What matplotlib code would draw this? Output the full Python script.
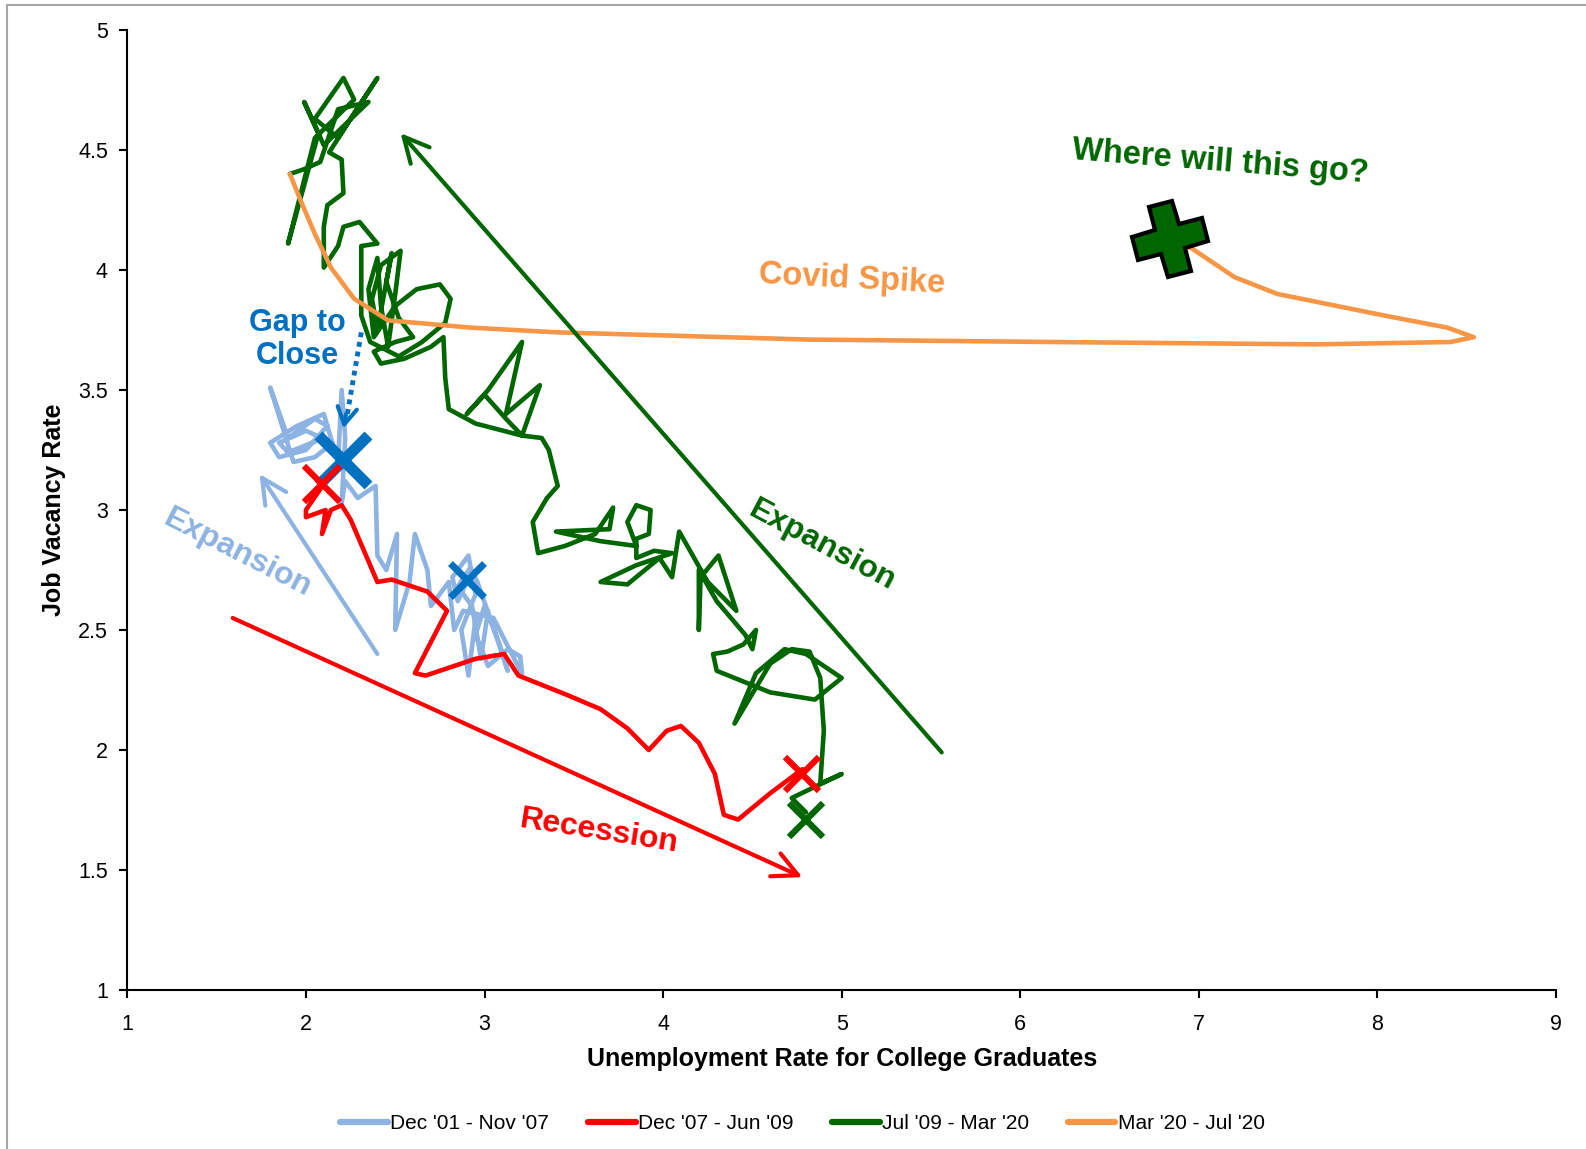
import numpy as np
import matplotlib.pyplot as plt
from matplotlib.lines import Line2D
from matplotlib.markers import MarkerStyle
from matplotlib.transforms import Affine2D

plt.rcParams['font.family'] = ['Liberation Sans', 'DejaVu Sans']

# traced paths (unemployment rate, job vacancy rate)
lb_x = [2.90, 2.85, 2.82, 2.91, 2.95, 2.87, 2.91, 2.95, 3.02, 2.98, 2.93, 2.85, 2.92, 2.96,
        3.05, 3.13, 3.08, 3.00, 2.95, 3.02, 3.13, 3.20, 3.21, 3.18, 3.05, 2.88, 2.83, 2.80,
        2.70, 2.68, 2.61, 2.58, 2.50, 2.51, 2.45, 2.40, 2.39, 2.29, 2.22, 2.20, 2.22, 2.20,
        2.18, 2.10, 1.95, 1.80, 1.85, 2.00, 2.12, 2.05, 1.90, 1.80, 1.93, 2.05, 2.15, 2.00,
        1.85, 1.90, 2.10, 2.21]
lb_y = [2.70, 2.62, 2.72, 2.81, 2.65, 2.50, 2.31, 2.55, 2.58, 2.38, 2.60, 2.68, 2.76, 2.70,
        2.51, 2.33, 2.45, 2.60, 2.48, 2.35, 2.42, 2.39, 2.32, 2.36, 2.55, 2.58, 2.50, 2.70,
        2.60, 2.75, 2.90, 2.70, 2.50, 2.90, 2.75, 2.81, 3.10, 3.05, 3.12, 3.03, 3.30, 3.50,
        3.20, 3.40, 3.35, 3.28, 3.22, 3.25, 3.35, 3.38, 3.30, 3.51, 3.20, 3.22, 3.28, 3.33,
        3.28, 3.24, 3.30, 3.21]

red_x = [2.12, 2.00, 2.00, 2.11, 2.09, 2.14, 2.20, 2.25, 2.40, 2.48, 2.68, 2.79, 2.61, 2.67,
         2.95, 3.11, 3.19, 3.46, 3.65, 3.80, 3.92, 4.02, 4.10, 4.20, 4.29, 4.34, 4.42, 4.60, 4.78]
red_y = [3.13, 3.00, 2.97, 3.00, 2.90, 3.00, 3.02, 2.96, 2.70, 2.71, 2.66, 2.58, 2.32, 2.31,
         2.38, 2.40, 2.31, 2.23, 2.17, 2.09, 2.00, 2.08, 2.10, 2.03, 1.90, 1.73, 1.71, 1.82, 1.92]

gr_x = [4.80, 4.72, 5.00, 4.88, 4.90, 4.88, 4.82, 4.72, 4.60, 4.40, 4.52, 4.68, 4.80, 5.00,
        4.85, 4.60, 4.30, 4.28, 4.36, 4.45, 4.52, 4.50, 4.46,
        4.30, 4.20, 4.20, 4.21, 4.31, 4.41, 4.25, 4.09, 4.05, 3.98,
        3.80, 3.65, 3.85, 4.05, 3.95, 3.85, 3.85, 3.92, 3.93, 3.85, 3.80, 3.85, 3.65, 3.40,
        3.70, 3.72, 3.62, 3.45, 3.30,
        3.27, 3.35, 3.41, 3.36, 3.32, 3.21, 3.31, 3.12, 3.21, 3.02, 2.90, 3.00, 3.12, 3.21,
        2.95, 2.80, 2.78, 2.77,
        2.70, 2.55, 2.42, 2.38, 2.50, 2.60, 2.52, 2.45, 2.48, 2.40, 2.37, 2.42, 2.53, 2.50,
        2.46, 2.42, 2.40, 2.35, 2.38, 2.50, 2.62, 2.75, 2.81, 2.78, 2.65, 2.52, 2.36, 2.31,
        2.31, 2.40, 2.30, 2.21, 2.18, 2.10, 2.10, 2.12, 2.21, 2.20, 2.13, 2.25, 2.40, 2.18,
        2.05, 2.21, 2.27, 2.05, 1.90, 2.07, 1.99, 2.10, 2.35, 2.18, 2.08, 1.99, 1.91]
gr_y = [1.74, 1.80, 1.90, 1.86, 2.08, 2.30, 2.41, 2.42, 2.36, 2.11, 2.32, 2.42, 2.40, 2.30,
        2.21, 2.24, 2.33, 2.40, 2.41, 2.44, 2.50, 2.42, 2.48,
        2.62, 2.75, 2.50, 2.72, 2.81, 2.58, 2.70, 2.91, 2.72, 2.80,
        2.69, 2.70, 2.77, 2.82, 2.83, 2.80, 2.88, 2.90, 3.00, 3.02, 2.95, 2.85, 2.87, 2.91,
        2.92, 3.01, 2.90, 2.85, 2.82,
        2.95, 3.05, 3.10, 3.25, 3.30, 3.31, 3.52, 3.40, 3.70, 3.50, 3.40, 3.48, 3.38, 3.31,
        3.36, 3.42, 3.55, 3.72,
        3.68, 3.63, 3.61, 3.66, 3.70, 3.72, 3.80, 3.95, 4.07, 3.75, 3.88, 4.02, 4.08, 3.90,
        3.68, 3.85, 4.05, 3.92, 3.72, 3.85, 3.92, 3.94, 3.88, 3.78, 3.70, 3.64, 3.70, 3.81,
        4.10, 4.11, 4.20, 4.18, 4.10, 4.01, 4.18, 4.27, 4.32, 4.46, 4.49, 4.63, 4.80, 4.55,
        4.63, 4.80, 4.71, 4.55, 4.11, 4.57, 4.70, 4.52, 4.70, 4.67, 4.45, 4.42, 4.40]

or_x = [1.91, 1.97, 2.05, 2.14, 2.27, 2.46, 2.92, 3.41, 4.82, 6.17, 7.66, 8.41, 8.54, 8.39,
        8.04, 7.44, 7.20, 6.96, 6.84]
or_y = [4.40, 4.29, 4.15, 4.01, 3.88, 3.79, 3.76, 3.74, 3.71, 3.70, 3.69, 3.70, 3.72, 3.76,
        3.81, 3.90, 3.97, 4.09, 4.13]

labels = ["Dec '01 - Nov '07", "Dec '07 - Jun '09", "Jul '09 - Mar '20", "Mar '20 - Jul '20"]
colors = ['#8DB3E2', '#FF0000', '#006600', '#F79646']

# start / end markers: (x, y, colour, size, width)
crosses = [(2.21, 3.21, '#0070C0', 36, 8),
           (2.90, 2.71, '#0070C0', 24, 5),
           (2.09, 3.11, '#FF0000', 26, 4.5),
           (4.78, 1.90, '#FF0000', 24, 4.5),
           (4.80, 1.71, '#006600', 24, 4.5)]
plus_pt = (6.84, 4.13)

fig = plt.figure(figsize=(15.86, 11.49), dpi=100)
ax = fig.add_axes([0.0803, 0.1384, 0.9008, 0.8355])

series = [(lb_x, lb_y), (red_x, red_y), (gr_x, gr_y), (or_x, or_y)]
handles = []
for (xs, ys), c, lab in zip(series, colors, labels):
    h, = ax.plot(xs, ys, color=c, lw=3.3, label=lab,
                 solid_joinstyle='round', solid_capstyle='round')
    handles.append(h)

for x, y, c, s, w in crosses:
    ax.plot(x, y, marker='x', ms=s, mew=w, color=c, zorder=5)

plus = MarkerStyle('P', transform=Affine2D().rotate_deg(15))
ax.plot(*plus_pt, marker=plus, ms=52, mfc='#006600', mec='black', mew=3, zorder=6)

# arrows
def arrow(tail, head, c, ls='-'):
    ax.annotate('', xy=head, xytext=tail,
                arrowprops=dict(arrowstyle='->,head_length=0.9,head_width=0.45',
                                color=c, lw=3, ls=ls, shrinkA=0, shrinkB=0,
                                mutation_scale=20))

arrow((5.56, 1.99), (2.53, 4.57), '#006600')
arrow((2.40, 2.40), (1.74, 3.15), '#8DB3E2')
arrow((1.59, 2.55), (4.78, 1.47), '#FF0000')
ax.plot([2.31, 2.225], [3.74, 3.37], color='#0070C0', lw=3.5, ls=(0, (1, 1)))
ax.annotate('', xy=(2.21, 3.34), xytext=(2.225, 3.40),
            arrowprops=dict(arrowstyle='->,head_length=0.6,head_width=0.35',
                            color='#0070C0', lw=3, shrinkA=0, shrinkB=0, mutation_scale=20))

# annotations
ax.text(7.12, 4.45, 'Where will this go?', color='#006600', fontsize=23.5, fontweight='bold',
        rotation=-4.5, ha='center', va='center')
ax.text(5.06, 3.96, 'Covid Spike', color='#F79646', fontsize=23.5, fontweight='bold',
        rotation=-3, ha='center', va='center')
ax.text(1.95, 3.71, 'Gap to\nClose', color='#0070C0', fontsize=22, fontweight='bold',
        ha='center', va='center', linespacing=1.12)
ax.text(4.89, 2.85, 'Expansion', color='#006600', fontsize=23, fontweight='bold',
        rotation=-28, ha='center', va='center', rotation_mode='anchor')
ax.text(1.62, 2.82, 'Expansion', color='#8DB3E2', fontsize=23, fontweight='bold',
        rotation=-27, ha='center', va='center', rotation_mode='anchor')
ax.text(3.64, 1.66, 'Recession', color='#FF0000', fontsize=23, fontweight='bold',
        rotation=-9, ha='center', va='center', rotation_mode='anchor')

ax.set_xlim(1, 9)
ax.set_ylim(1, 5)
ax.set_xticks(range(1, 10))
ax.set_yticks([1, 1.5, 2, 2.5, 3, 3.5, 4, 4.5, 5])
ax.set_yticklabels(['1', '1.5', '2', '2.5', '3', '3.5', '4', '4.5', '5'])
for s in ['top', 'right']:
    ax.spines[s].set_visible(False)
for s in ['left', 'bottom']:
    ax.spines[s].set_linewidth(1.5)
ax.tick_params(direction='out', length=6, width=1.5, labelsize=15.5)
ax.tick_params(axis='x', pad=11)
ax.tick_params(axis='y', pad=8)
ax.set_xlabel('Unemployment Rate for College Graduates', fontsize=18, fontweight='bold',
              labelpad=9)
ax.set_ylabel('Job Vacancy Rate', fontsize=18, fontweight='bold', labelpad=9)

leg = fig.legend(handles=handles, loc='center', bbox_to_anchor=(0.506, 0.022), ncol=4,
                 frameon=False, fontsize=15, handlelength=2.3, handletextpad=0.1,
                 columnspacing=1.85)
for ln in leg.get_lines():
    ln.set_linewidth(4.5)

# outer frame
fig.add_artist(Line2D([0.0046, 0.0046], [0.0, 0.9956], color='#A6A6A6', lw=1.5))
fig.add_artist(Line2D([0.0046, 1.0], [0.9956, 0.9956], color='#A6A6A6', lw=1.5))

fig.savefig('out.png', dpi=100)
